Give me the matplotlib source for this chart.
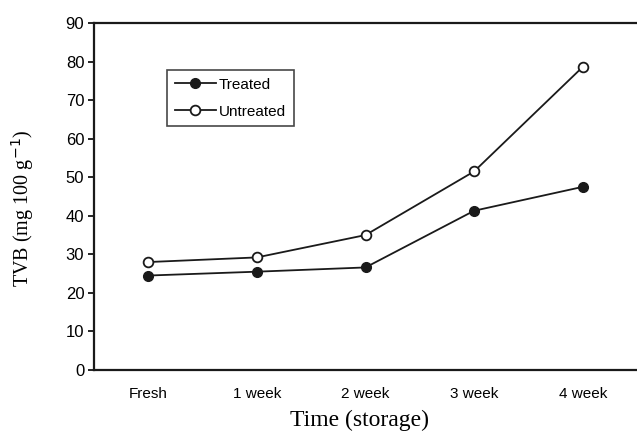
import matplotlib
matplotlib.use("Agg")
import matplotlib.pyplot as plt

categories = ["Fresh", "1 week", "2 week", "3 week", "4 week"]
treated = [24.5, 25.5, 26.6, 41.3, 47.5]
untreated = [28.0, 29.2, 35.0, 51.5, 78.6]
yticks = [0, 10, 20, 30, 40, 50, 60, 70, 80, 90]

fig = plt.figure(figsize=(6.37, 4.32), dpi=100)
ax = fig.add_axes([94/637, 1-370/432, 1-94/637, (370-23)/432])

x = list(range(len(categories)))
ax.plot(x, treated, color="#1a1a1a", lw=1.3, marker="o", ms=7,
        mfc="#1a1a1a", mec="#1a1a1a", label="Treated")
ax.plot(x, untreated, color="#1a1a1a", lw=1.3, marker="o", ms=7,
        mfc="white", mec="#1a1a1a", mew=1.3, label="Untreated")

ax.set_xlim(-0.5, 4.5)
ax.set_ylim(0, 90)
ax.set_yticks(yticks)
ax.set_xticks(x)
ax.set_xticklabels(categories, family="Liberation Sans", fontsize=11)
for lab in ax.get_yticklabels():
    lab.set_family("Liberation Sans")
    lab.set_fontsize(12)
ax.tick_params(axis="x", length=0, pad=12)
ax.tick_params(axis="y", length=4, width=1.2, direction="out", pad=3)

for s in ["left", "bottom", "top"]:
    ax.spines[s].set_linewidth(1.6)
    ax.spines[s].set_color("#1a1a1a")
ax.spines["right"].set_visible(False)

ax.set_ylabel("TVB (mg 100 g$^{-1}$)", family="Liberation Serif", fontsize=14.5)
ax.yaxis.set_label_coords((36-94)/543, (370-208)/347)
ax.set_xlabel("Time (storage)", family="Liberation Serif", fontsize=17)
ax.xaxis.set_label_coords((359-94)/543, (370-410)/347)

leg = ax.legend(loc="upper left", bbox_to_anchor=((167-94)/543, (370-70)/347),
                prop={"family": "Liberation Sans", "size": 11},
                frameon=True, fancybox=False, edgecolor="#1a1a1a",
                handlelength=2.7, handletextpad=0.2, borderpad=0.5,
                labelspacing=0.85, borderaxespad=0)
leg.get_frame().set_linewidth(1.2)

fig.savefig("out.png", dpi=100)
